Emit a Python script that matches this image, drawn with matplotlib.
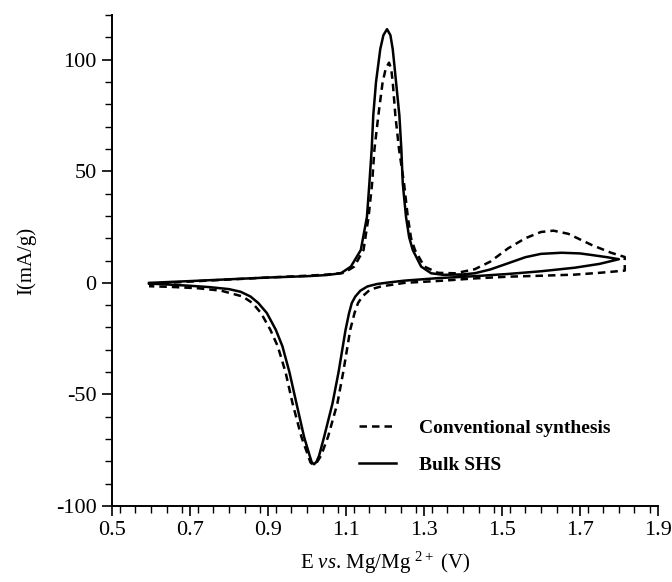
import numpy as np
import matplotlib
matplotlib.use("Agg")
import matplotlib.pyplot as plt
from matplotlib.ticker import MultipleLocator

plt.rcParams['font.family'] = 'serif'
plt.rcParams['font.serif'] = ['Liberation Serif', 'DejaVu Serif']
plt.rcParams['mathtext.fontset'] = 'custom'
plt.rcParams['mathtext.rm'] = 'Liberation Serif'
plt.rcParams['mathtext.it'] = 'Liberation Serif:italic'
plt.rcParams['axes.unicode_minus'] = False

# Bulk SHS (solid): anodic sweep then cathodic sweep back
shs_E = [0.595, 0.70, 0.80, 0.90, 1.00, 1.05, 1.087, 1.1126, 1.138, 1.1538, 1.160,
         1.166, 1.170, 1.177, 1.188, 1.196, 1.2053, 1.214, 1.2199, 1.2245, 1.2285,
         1.237, 1.242, 1.2457, 1.254, 1.262, 1.2714, 1.2928, 1.3185,
         1.35, 1.40, 1.43, 1.47, 1.516, 1.56, 1.60, 1.653, 1.70, 1.73, 1.77, 1.80,
         1.75, 1.687, 1.60, 1.516, 1.43, 1.334, 1.25, 1.21, 1.18, 1.155, 1.137,
         1.124, 1.115, 1.108, 1.099, 1.092, 1.081, 1.0655, 1.044, 1.031, 1.024,
         1.018, 1.012, 1.007, 0.9925, 0.973, 0.955, 0.937, 0.92, 0.897, 0.875,
         0.855, 0.83, 0.80, 0.75, 0.70, 0.65, 0.595]
shs_I = [0.0, 0.8, 1.6, 2.4, 3.0, 3.5, 4.3, 7.3, 14.7, 29.6, 44.5,
         60, 75, 89.9, 104.8, 111, 113.7, 111, 104.8, 97, 89.9,
         75, 60, 44.5, 29.6, 20.5, 14.7, 7.3, 4.3,
         3.6, 3.8, 4.3, 6.0, 8.8, 11.5, 13.0, 13.5, 13.2, 12.5, 11.5, 10.6,
         8.5, 6.8, 5.2, 4.0, 3.0, 2.1, 1.0, 0.2, -0.5, -1.6, -3.5,
         -6.1, -9, -13.5, -21, -28.4, -40, -54, -69, -77.5, -80.3,
         -81.3, -80.3, -77.5, -69, -54, -40, -28.4, -21, -13.5, -9,
         -6.1, -4.0, -2.8, -1.9, -1.3, -0.8, -0.3]

# Conventional synthesis (dashed)
conv_E = [0.595, 0.70, 0.80, 0.90, 1.00, 1.05, 1.095, 1.121, 1.145, 1.158, 1.167,
          1.173, 1.183, 1.194, 1.202, 1.2104, 1.216, 1.22, 1.2267, 1.236, 1.249,
          1.2586, 1.267, 1.277, 1.301, 1.336, 1.38,
          1.43, 1.47, 1.516, 1.56, 1.60, 1.632, 1.67, 1.73, 1.78, 1.815, 1.815,
          1.75, 1.687, 1.60, 1.52, 1.43, 1.35, 1.25, 1.19, 1.162, 1.142, 1.131,
          1.122, 1.111, 1.104, 1.093, 1.078, 1.054, 1.036, 1.025, 1.016, 1.009,
          1.003, 0.9857, 0.963, 0.945, 0.925, 0.906, 0.882, 0.86, 0.835, 0.78,
          0.72, 0.65, 0.595]
conv_I = [-0.5, 0.6, 1.5, 2.4, 3.2, 3.7, 4.5, 7.3, 14.7, 29.6, 44.5,
          59.8, 75, 89.9, 96, 98.7, 96, 89.9, 75, 60, 44.5,
          29.6, 20, 14.7, 7.3, 4.5, 4.3,
          6.1, 9.5, 15.5, 20, 22.8, 23.4, 22, 17, 13.5, 11.6, 5.5,
          4.5, 3.7, 3.2, 2.8, 2.0, 1.0, 0.0, -1.6, -3.0, -6.1, -9,
          -13.5, -21, -28.4, -40, -54, -69, -77.5, -80.5, -81.5, -80.5,
          -77.5, -69, -54, -40, -28.4, -21, -13.5, -9, -6.1, -3.5,
          -2.4, -1.8, -1.5]

fig = plt.figure(figsize=(6.72, 5.82), dpi=100)
ax = fig.add_axes([0.1667, 0.1306, 0.8123, 0.8434])

ax.plot(conv_E, conv_I, color='black', lw=1.8, linestyle=(0, (3, 2)),
        label='Conventional synthesis')
ax.plot(shs_E, shs_I, color='black', lw=1.8, label='Bulk SHS')

ax.set_xlim(0.5, 1.9)
ax.set_ylim(-100, 120)
ax.xaxis.set_minor_locator(MultipleLocator(0.04))
ax.yaxis.set_major_locator(MultipleLocator(50))
ax.yaxis.set_minor_locator(MultipleLocator(10))
ax.set_xticks(np.arange(0.5, 1.91, 0.2))
ax.set_xticklabels(['0.5', '0.7', '0.9', '1.1', '1.3', '1.5', '1.7', '1.9'])

for s in ['top', 'right']:
    ax.spines[s].set_visible(False)
for s in ['left', 'bottom']:
    ax.spines[s].set_linewidth(1.4)

ax.tick_params(which='major', direction='out', length=7, width=1.2, labelsize=16, pad=4)
ax.tick_params(which='minor', direction='out', length=5, width=1.0)

ax.set_xlabel(r'E $\mathit{vs}$. Mg/Mg $^{2+}$ (V)', fontsize=15, labelpad=7)
ax.set_ylabel('I(mA/g)', fontsize=15, labelpad=14)

leg = ax.legend(loc='upper left', bbox_to_anchor=(0.452, 0.176), frameon=False,
                borderpad=0, borderaxespad=0, handlelength=1.9, handletextpad=1.2,
                labelspacing=1.0, prop={'weight': 'bold', 'size': 14})

fig.savefig('out.png', dpi=100)
